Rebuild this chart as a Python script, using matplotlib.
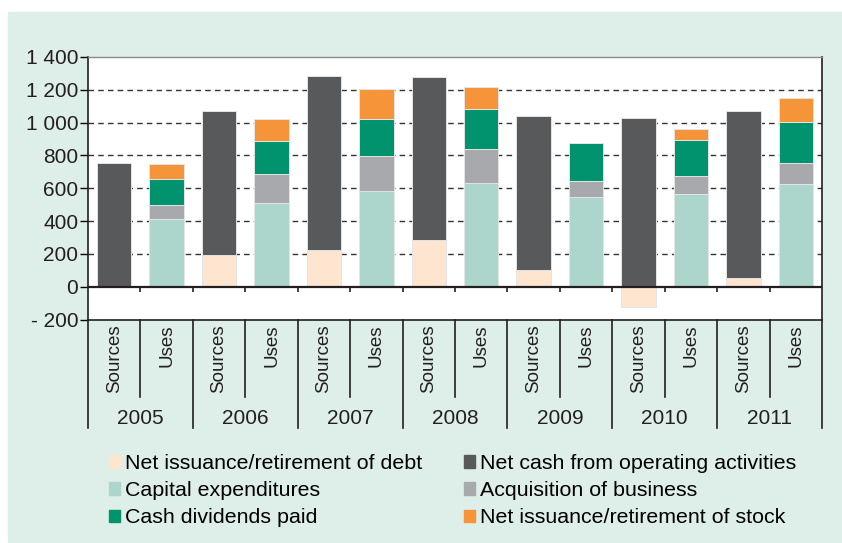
import matplotlib.pyplot as plt
from matplotlib.patches import Rectangle
from matplotlib.ticker import FuncFormatter

plt.rcParams['font.family'] = ['Liberation Sans', 'DejaVu Sans']

years = ["2005", "2006", "2007", "2008", "2009", "2010", "2011"]
kinds = ["Sources", "Uses"]

# sources
debt = [0, 195, 221, 286, 100, -124, 51]
operating = [751, 873, 1066, 992, 943, 1029, 1017]
# uses
capex = [410, 508, 584, 633, 546, 566, 627]
acquisition = [85, 180, 210, 205, 97, 106, 126]
dividends = [160, 197, 227, 245, 230, 223, 251]
stock = [90, 136, 182, 132, 0, 69, 145]

c_debt = "#fde5cf"
c_op = "#58595b"
c_capex = "#acd6cb"
c_acq = "#a7a9ac"
c_div = "#00936e"
c_stock = "#f6943a"
panel = "#deeee8"

fig = plt.figure(figsize=(8.42, 5.43), dpi=100)
fig.patches.append(Rectangle((8 / 842, 0.002), 1, (543 - 12) / 543 - 0.002,
                             transform=fig.transFigure, color=panel, zorder=-10))
ax = fig.add_axes([88 / 842, 1 - 319.5 / 543, 734 / 842, 262.5 / 543])
ax.set_facecolor("white")

w = 0.655
edge = dict(edgecolor="#e4e4e4", linewidth=0.7, zorder=3)
xs = [2 * i for i in range(len(years))]
xu = [2 * i + 1 for i in range(len(years))]

# sources bars: debt from 0, operating stacked on positive debt
op_base = [max(d, 0) for d in debt]
ax.bar(xs, debt, w, color=c_debt, **edge)
ax.bar(xs, operating, w, bottom=op_base, color=c_op, **edge)

# uses bars
b = [0] * len(years)
for vals, col in [(capex, c_capex), (acquisition, c_acq), (dividends, c_div), (stock, c_stock)]:
    ax.bar(xu, vals, w, bottom=b, color=col, **edge)
    b = [p + q for p, q in zip(b, vals)]

ax.set_xlim(-0.5, 2 * len(years) - 0.5)
ax.set_ylim(-200, 1400)
ax.set_yticks(range(-200, 1401, 200))
ax.yaxis.set_major_formatter(FuncFormatter(
    lambda v, p: ("- " if v < 0 else "") + f"{abs(int(v)):,}".replace(",", " ")))
ax.tick_params(axis="y", direction="out", length=6, width=1, pad=1, labelsize=15, labelcolor="#231f20")
ax.set_xticks([])

for y in range(200, 1201, 200):
    ax.axhline(y, color="#333333", lw=1, ls=(0, (4, 3)), zorder=1)

ax.axhline(0, color="#231f20", lw=1.6, zorder=4)
bounds = [i - 0.5 for i in range(1, 2 * len(years))]
ax.vlines(bounds, -32, 0, color="#231f20", lw=1.2, zorder=4)

for s in ["left", "bottom", "right"]:
    ax.spines[s].set_color("#231f20")
    ax.spines[s].set_linewidth(1.2)
ax.spines["top"].set_color("#8a8a8a")
ax.spines["top"].set_linewidth(1)

# category axis below the plot
trans = ax.get_xaxis_transform()
for i in range(2 * len(years) + 1):
    x = i - 0.5
    low = -0.413 if i % 2 == 0 else -0.294
    ax.plot([x, x], [0, low], transform=trans, color="#231f20", lw=1.2, clip_on=False)

for i, yr in enumerate(years):
    for j, k in enumerate(kinds):
        ax.text(2 * i + j, -0.018, k, transform=trans, rotation=90, ha="center", va="top",
                fontsize=13.5, color="#231f20")
    ax.text(2 * i + 0.5, -0.378, yr, transform=trans, ha="center", va="center",
            fontsize=15, color="#231f20")

handles = [Rectangle((0, 0), 1, 1, color=c) for c in [c_debt, c_capex, c_div, c_op, c_acq, c_stock]]
labels = ["Net issuance/retirement of debt", "Capital expenditures", "Cash dividends paid",
          "Net cash from operating activities", "Acquisition of business",
          "Net issuance/retirement of stock"]
fig.legend(handles, labels, ncol=2, loc="upper left", bbox_to_anchor=(109 / 842, 1 - 454 / 543),
           frameon=False, fontsize=15.4, handlelength=0.5, handleheight=0.5,
           handletextpad=0.25, labelspacing=0.38, columnspacing=1.95, borderpad=0, borderaxespad=0)

fig.savefig("out.png", dpi=100)
